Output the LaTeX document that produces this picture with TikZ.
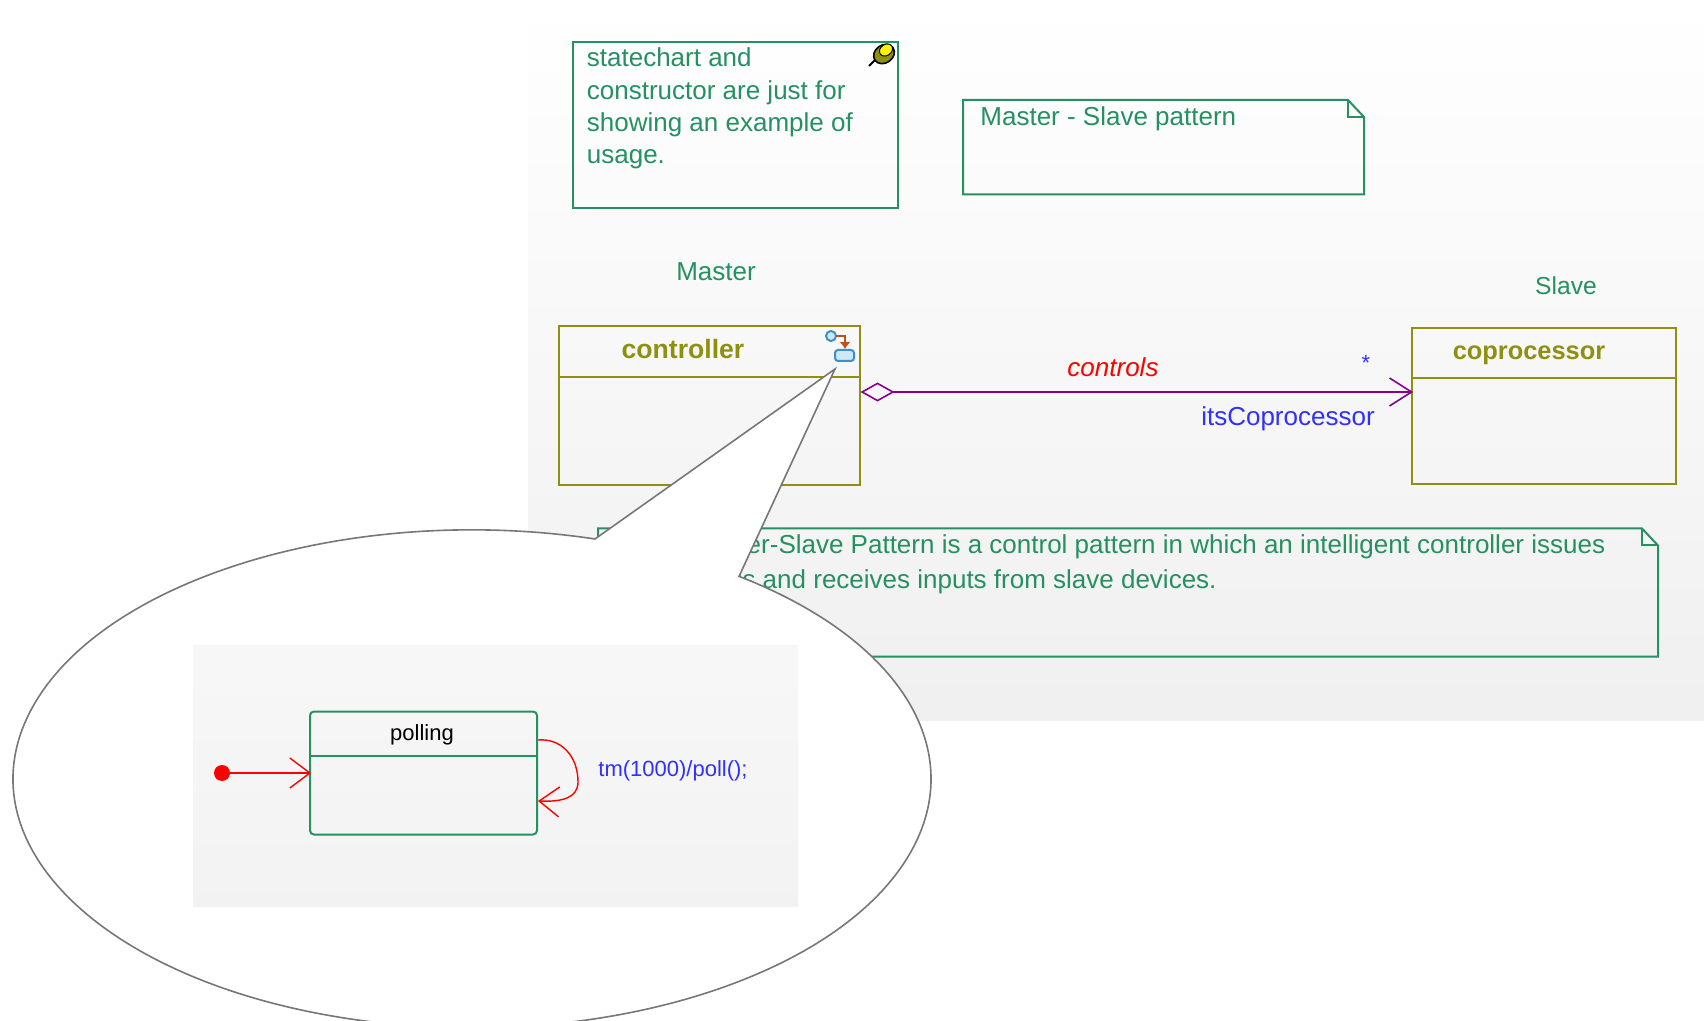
\documentclass[tikz,border=0pt]{standalone}
\usepackage{fontspec}
\setmainfont{Liberation Sans}
\usepackage{xcolor}
\usetikzlibrary{calc,arrows.meta,positioning}
\definecolor{notegreen}{HTML}{259062}
\definecolor{classolive}{HTML}{8F8F10}
\definecolor{roleblue}{HTML}{3030FF}
\definecolor{assocpurple}{HTML}{8B008B}
\definecolor{calloutgray}{HTML}{777777}
\definecolor{iconblue}{HTML}{3F8FCB}
\definecolor{iconfill}{HTML}{CFE8F8}
\definecolor{iconbrown}{HTML}{C0501A}
\tikzset{
  notebox/.style={draw=notegreen,line width=1pt},
  notetext/.style={text=notegreen,anchor=north west,align=left,inner sep=0pt,font=\fontsize{13}{16.2}\selectfont},
  classbox/.style={draw=classolive,line width=1pt,rectangle,inner sep=0pt},
  classname/.style={text=classolive,inner sep=0pt,font=\fontsize{13.3}{16}\selectfont\bfseries},
  statebox/.style={draw=notegreen,line width=1pt,rectangle,rounded corners=2pt,inner sep=0pt},
  assocline/.style={draw=assocpurple,line width=0.8pt},
  transline/.style={draw=red,line width=0.7pt,-{Straight Barb[length=10pt,width=15pt]}},
}
\newcommand{\foldnote}[4]{%
  \draw[notebox] (#1,#2) -- ({#3-16},#2) -- (#3,{#2-17}) -- (#3,#4) -- (#1,#4) -- cycle;
  \draw[notebox] ({#3-16},#2) -- ({#3-16},{#2-17}) -- (#3,{#2-17});
}
\begin{document}
\begin{tikzpicture}[x=0.5pt,y=0.5pt]
  \path[use as bounding box,clip] (0,0) rectangle (1704,-1021);
  \shade[top color=white,bottom color=black!6] (528,0) rectangle (1704,-720);

  % notes
  \draw[notebox] (573,-42) rectangle (898,-208);
  \node[notetext] (usagenote) at (586.5,-47.5) {statechart and\\constructor are just for\\showing an example of\\usage.};
  \foldnote{963}{-100}{1364}{-194.5}
  \node[notetext] (patternnote) at (980,-106) {Master - Slave pattern};
  \foldnote{598}{-528.5}{1658}{-656.5}
  \node[notetext,font=\fontsize{13}{17.6}\selectfont] (descnote) at (628,-534) {\hspace*{31pt}Master-Slave Pattern is a control pattern in which an intelligent controller issues\\commands and receives inputs from slave devices.};

  % pin
  \draw[black,line width=1pt] (869,-66) -- (877,-58);
  \draw[black,fill=classolive,line width=0.8pt,rotate around={35:(884,-54)}] (884,-54) ellipse [x radius=11,y radius=9];
  \draw[black,fill=yellow,line width=0.5pt,rotate around={35:(886,-50)}] (886,-50) ellipse [x radius=7,y radius=5.5];

  % classes
  \node[classbox,minimum width=150.5pt,minimum height=79.5pt] (controller) at (709,-405.5) {};
  \node[classbox,minimum width=132pt,minimum height=78pt] (coprocessor) at (1544,-406) {};
  \draw[classbox] (controller.west |- 0,-377) -- (controller.east |- 0,-377);
  \draw[classbox] (coprocessor.west |- 0,-378.5) -- (coprocessor.east |- 0,-378.5);
  \node[classname] (controllername) at (683,-349) {controller};
  \node[classname,font=\fontsize{12.7}{16}\selectfont\bfseries] (coprocessorname) at (1529,-355) {coprocessor};
  \node[text=notegreen,font=\fontsize{13}{16}\selectfont] (masterrole) at (716,-272) {Master};
  \node[text=notegreen,font=\fontsize{12.3}{16}\selectfont] (slaverole) at (1566,-286) {Slave};

  % statechart icon
  \draw[iconblue,fill=iconfill,line width=1pt] (831,-336) circle (5);
  \draw[iconbrown,line width=1pt,-{Latex[length=3.5pt,width=5.5pt]}] (836,-336) -- (845,-336) -- (845,-349);
  \draw[iconblue,fill=iconfill,line width=1pt,rounded corners=1.5pt] (835,-350) rectangle (854,-361);

  % association
  \draw[assocline,shorten >=-1pt,{Diamond[open,length=17pt,width=9.5pt]}-{Straight Barb[length=11pt,width=14pt]}]
    ([yshift=6.75pt]controller.east) -- ([yshift=7pt]coprocessor.west);
  \node[text=red,font=\fontsize{13}{15}\selectfont\itshape] (assocname) at (1113,-367) {controls};
  \node[text=roleblue,font=\fontsize{11}{13}\selectfont] (multiplicity) at (1366,-363) {*};
  \node[text=roleblue,font=\fontsize{13}{15}\selectfont] (itsrole) at (1288,-419) {itsCoprocessor};

  % callout
  \coordinate (callouttip) at (835,-369);
  \draw[calloutgray,fill=white,line width=0.8pt] (callouttip) -- (595,-539)
    arc[start angle=74.46,end angle=414.43,x radius=459,y radius=249] -- cycle;
  \shade[top color=black!3,bottom color=black!5] (193,-645.5) rectangle (798,-906);

  % statechart
  \node[statebox,minimum width=113.5pt,minimum height=61.5pt] (polling) at (423.5,-773) {};
  \draw[notegreen,line width=1pt] (polling.west |- 0,-756) -- (polling.east |- 0,-756);
  \node[text=black,font=\fontsize{11}{13}\selectfont] (pollingname) at (422,-735) {polling};
  \node[circle,fill=red,inner sep=0pt,minimum size=8pt] (initial) at (222,-773) {};
  \draw[transline,shorten >=-1pt] (initial) -- (polling.west);
  \draw[transline] ([yshift=16.5pt]polling.east) .. controls (560,-738) and (578,-755) .. (578,-782)
    .. controls (578,-798) and (562,-802) .. ([yshift=-14pt]polling.east);
  \node[text=roleblue,font=\fontsize{11}{13}\selectfont] (timeout) at (673,-771) {tm(1000)/poll();};
\end{tikzpicture}
\end{document}
